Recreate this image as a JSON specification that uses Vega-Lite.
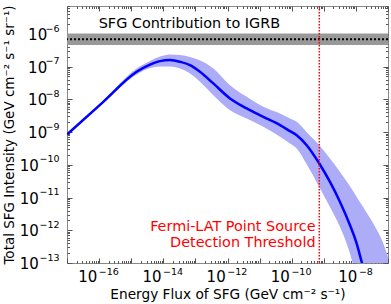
{
  "$schema": "https://vega.github.io/schema/vega-lite/v6.json",
  "width": 321,
  "height": 257,
  "autosize": {"type": "none"},
  "padding": {"left": 67, "top": 6, "right": 3, "bottom": 41},
  "config": {
    "font": "DejaVu Sans",
    "view": {"stroke": "#888888", "strokeWidth": 1},
    "axis": {
      "tickColor": "#555555",
      "labelColor": "#000000",
      "titleColor": "#000000",
      "labelFont": "DejaVu Sans",
      "titleFont": "DejaVu Sans",
      "labelFontSize": 15,
      "titleFontSize": 13.5,
      "titleFontWeight": "normal",
      "grid": false,
      "domain": false,
      "labelFlush": false,
      "labelOverlap": false,
      "labelBound": false
    }
  },
  "datasets": {
    "curve": [
      {"flux": 1e-17, "mid": 8.45e-10, "hi": 9.25e-10, "lo": 7.76e-10},
      {"flux": 1.352e-16, "mid": 8.39e-9, "hi": 9.25e-9, "lo": 7.66e-9},
      {"flux": 1.483e-15, "mid": 6.93e-8, "hi": 8.69e-8, "lo": 5.69e-8},
      {"flux": 3.855e-15, "mid": 1.151e-7, "hi": 1.472e-7, "lo": 8.99e-8},
      {"flux": 7.89e-15, "mid": 1.472e-7, "hi": 2.023e-7, "lo": 1.0e-7},
      {"flux": 1.618e-14, "mid": 1.581e-7, "hi": 2.36e-7, "lo": 1.0e-7},
      {"flux": 3.31e-14, "mid": 1.403e-7, "hi": 2.249e-7, "lo": 8.69e-8},
      {"flux": 6.79e-14, "mid": 1.112e-7, "hi": 1.954e-7, "lo": 6.11e-8},
      {"flux": 1.39e-13, "mid": 6.93e-8, "hi": 1.524e-7, "lo": 3.43e-8},
      {"flux": 3.61e-13, "mid": 3.06e-8, "hi": 8.81e-8, "lo": 1.343e-8},
      {"flux": 1.197e-12, "mid": 1.067e-8, "hi": 2.716e-8, "lo": 4.68e-9},
      {"flux": 3.96e-12, "mid": 5.27e-9, "hi": 1.191e-8, "lo": 2.606e-9},
      {"flux": 1.303e-11, "mid": 2.917e-9, "hi": 5.9e-9, "lo": 1.442e-9},
      {"flux": 4.325e-11, "mid": 1.626e-9, "hi": 3.707e-9, "lo": 7.13e-10},
      {"flux": 8.85e-11, "mid": 1.067e-9, "hi": 2.606e-9, "lo": 4.48e-10},
      {"flux": 1.432e-10, "mid": 8.04e-10, "hi": 2.051e-9, "lo": 3.15e-10},
      {"flux": 2.931e-10, "mid": 3.97e-10, "hi": 9.93e-10, "lo": 1.042e-10},
      {"flux": 7.24e-10, "mid": 1.096e-10, "hi": 3.97e-10, "lo": 2.109e-11},
      {"flux": 1.56e-9, "mid": 3.0e-11, "hi": 1.56e-10, "lo": 5.16e-12},
      {"flux": 3.2e-9, "mid": 7.33e-12, "hi": 6.07e-11, "lo": 1.262e-12},
      {"flux": 6.55e-9, "mid": 1.422e-12, "hi": 2.218e-11, "lo": 1.936e-13},
      {"flux": 1.059e-8, "mid": 3.92e-13, "hi": 1.042e-11, "lo": 2.96e-14},
      {"flux": 1.517e-8, "mid": 1.074e-13, "hi": 6.03e-12, "lo": 3.2e-15},
      {"flux": 2.218e-8, "mid": 2.75e-14, "hi": 3.31e-12, "lo": 1e-15},
      {"flux": 3.48e-8, "hi": 1.603e-12, "lo": 1e-15},
      {"flux": 7.14e-8, "hi": 3.92e-13, "lo": 1e-15},
      {"flux": 1e-7, "hi": 1.524e-13, "lo": 1e-15}
    ]
  },
  "resolve": {"axis": {"x": "independent", "y": "independent"}},
  "layer": [
    {
      "data": {"values": [{"igrb_lo": 4.54e-7, "igrb_hi": 1.03e-6}]},
      "mark": {"type": "rect", "color": "#999999"},
      "encoding": {
        "y": {"field": "igrb_lo", "type": "quantitative", "scale": {"type": "log", "domain": [1e-13, 7.1e-6], "nice": false}, "axis": null},
        "y2": {"field": "igrb_hi"}
      }
    },
    {
      "data": {"values": [{"igrb": 6.8e-7}]},
      "mark": {"type": "rule", "color": "#000000", "strokeWidth": 2, "strokeDash": [2, 2]},
      "encoding": {
        "y": {"field": "igrb", "type": "quantitative", "scale": {"type": "log", "domain": [1e-13, 7.1e-6], "nice": false}, "axis": null}
      }
    },
    {
      "data": {"name": "curve"},
      "mark": {"type": "area", "color": "#acacf7", "clip": true, "interpolate": "monotone"},
      "encoding": {
        "x": {
          "field": "flux", "type": "quantitative",
          "scale": {"type": "log", "domain": [1e-17, 1e-7], "nice": false},
          "axis": {
            "orient": "bottom",
            "values": [1e-17,2e-17,3e-17,4e-17,5e-17,6e-17,7e-17,8e-17,9e-17,1e-16,2e-16,3e-16,4e-16,5e-16,6e-16,7e-16,8e-16,9e-16,1e-15,2e-15,3e-15,4e-15,5e-15,6e-15,7e-15,8e-15,9e-15,1e-14,2e-14,3e-14,4e-14,5e-14,6e-14,7e-14,8e-14,9e-14,1e-13,2e-13,3e-13,4e-13,5e-13,6e-13,7e-13,8e-13,9e-13,1e-12,2e-12,3e-12,4e-12,5e-12,6e-12,7e-12,8e-12,9e-12,1e-11,2e-11,3e-11,4e-11,5e-11,6e-11,7e-11,8e-11,9e-11,1e-10,2e-10,3e-10,4e-10,5e-10,6e-10,7e-10,8e-10,9e-10,1e-9,2e-9,3e-9,4e-9,5e-9,6e-9,7e-9,8e-9,9e-9,1e-8,2e-8,3e-8,4e-8,5e-8,6e-8,7e-8,8e-8,9e-8,1e-7],
            "labelExpr": "abs(log(datum.value)/LN10 - round(log(datum.value)/LN10)) < 0.001 && round(log(datum.value)/LN10) % 2 == 0 ? '10' : ''",
            "tickSize": {"condition": {"test": "abs(log(datum.value)/LN10 - round(log(datum.value)/LN10)) < 0.001", "value": -5}, "value": -2.5},
            "labelPadding": 23,
            "labelAlign": "right",
            "labelBaseline": "alphabetic",
            "labelOffset": {"condition": {"test": "datum.value > 5e-9", "value": 1}, "value": -2.3},
            "title": "Energy Flux of SFG (GeV cm⁻² s⁻¹)",
            "titleFontSize": 13.7,
            "titleX": 160.5,
            "titleY": 35.5,
            "titleBaseline": "alphabetic",
            "titleAlign": "center"
          }
        },
        "y": {
          "field": "lo", "type": "quantitative",
          "scale": {"type": "log", "domain": [1e-13, 7.1e-6], "nice": false},
          "axis": {
            "orient": "left",
            "values": [1e-13,2e-13,3e-13,4e-13,5e-13,6e-13,7e-13,8e-13,9e-13,1e-12,2e-12,3e-12,4e-12,5e-12,6e-12,7e-12,8e-12,9e-12,1e-11,2e-11,3e-11,4e-11,5e-11,6e-11,7e-11,8e-11,9e-11,1e-10,2e-10,3e-10,4e-10,5e-10,6e-10,7e-10,8e-10,9e-10,1e-9,2e-9,3e-9,4e-9,5e-9,6e-9,7e-9,8e-9,9e-9,1e-8,2e-8,3e-8,4e-8,5e-8,6e-8,7e-8,8e-8,9e-8,1e-7,2e-7,3e-7,4e-7,5e-7,6e-7,7e-7,8e-7,9e-7,1e-6,2e-6,3e-6,4e-6,5e-6,6e-6,7e-6],
            "labelExpr": "abs(log(datum.value)/LN10 - round(log(datum.value)/LN10)) < 0.001 ? '10' : ''",
            "tickSize": {"condition": {"test": "abs(log(datum.value)/LN10 - round(log(datum.value)/LN10)) < 0.001", "value": -5}, "value": -2.5},
            "labelPadding": {"condition": {"test": "datum.value < 1.5e-10", "value": 33.7}, "value": 25.3},
            "labelAlign": "right",
            "labelBaseline": "alphabetic",
            "labelOffset": 5.5,
            "title": "Total SFG Intensity (GeV cm⁻² s⁻¹ sr⁻¹)",
            "titleX": -57.5,
            "titleY": 128.5,
            "titleAngle": 270,
            "titleBaseline": "middle",
            "titleAlign": "center"
          }
        },
        "y2": {"field": "hi"}
      }
    },
    {
      "data": {"name": "curve"},
      "transform": [{"filter": "isValid(datum.mid)"}],
      "mark": {"type": "line", "color": "#0000ff", "strokeWidth": 2.5, "clip": true, "interpolate": "monotone"},
      "encoding": {
        "x": {
          "field": "flux", "type": "quantitative",
          "scale": {"type": "log", "domain": [1e-17, 1e-7], "nice": false},
          "axis": {
            "orient": "top",
            "values": [1e-17,2e-17,3e-17,4e-17,5e-17,6e-17,7e-17,8e-17,9e-17,1e-16,2e-16,3e-16,4e-16,5e-16,6e-16,7e-16,8e-16,9e-16,1e-15,2e-15,3e-15,4e-15,5e-15,6e-15,7e-15,8e-15,9e-15,1e-14,2e-14,3e-14,4e-14,5e-14,6e-14,7e-14,8e-14,9e-14,1e-13,2e-13,3e-13,4e-13,5e-13,6e-13,7e-13,8e-13,9e-13,1e-12,2e-12,3e-12,4e-12,5e-12,6e-12,7e-12,8e-12,9e-12,1e-11,2e-11,3e-11,4e-11,5e-11,6e-11,7e-11,8e-11,9e-11,1e-10,2e-10,3e-10,4e-10,5e-10,6e-10,7e-10,8e-10,9e-10,1e-9,2e-9,3e-9,4e-9,5e-9,6e-9,7e-9,8e-9,9e-9,1e-8,2e-8,3e-8,4e-8,5e-8,6e-8,7e-8,8e-8,9e-8,1e-7],
            "labels": false,
            "title": null,
            "tickSize": {"condition": {"test": "abs(log(datum.value)/LN10 - round(log(datum.value)/LN10)) < 0.001", "value": -5}, "value": -2.5}
          }
        },
        "y": {
          "field": "mid", "type": "quantitative",
          "scale": {"type": "log", "domain": [1e-13, 7.1e-6], "nice": false},
          "axis": {
            "orient": "right",
            "values": [1e-13,2e-13,3e-13,4e-13,5e-13,6e-13,7e-13,8e-13,9e-13,1e-12,2e-12,3e-12,4e-12,5e-12,6e-12,7e-12,8e-12,9e-12,1e-11,2e-11,3e-11,4e-11,5e-11,6e-11,7e-11,8e-11,9e-11,1e-10,2e-10,3e-10,4e-10,5e-10,6e-10,7e-10,8e-10,9e-10,1e-9,2e-9,3e-9,4e-9,5e-9,6e-9,7e-9,8e-9,9e-9,1e-8,2e-8,3e-8,4e-8,5e-8,6e-8,7e-8,8e-8,9e-8,1e-7,2e-7,3e-7,4e-7,5e-7,6e-7,7e-7,8e-7,9e-7,1e-6,2e-6,3e-6,4e-6,5e-6,6e-6,7e-6],
            "labels": false,
            "title": null,
            "tickSize": {"condition": {"test": "abs(log(datum.value)/LN10 - round(log(datum.value)/LN10)) < 0.001", "value": -5}, "value": -2.5}
          }
        }
      }
    },
    {
      "data": {"values": [{"threshold": 7.24e-10}]},
      "mark": {"type": "rule", "color": "#ff0000", "strokeWidth": 1.5, "strokeDash": [1.5, 1.5]},
      "encoding": {
        "x": {"field": "threshold", "type": "quantitative", "scale": {"type": "log", "domain": [1e-17, 1e-7], "nice": false}, "axis": null}
      }
    },
    {
      "data": {"values": [{"label": "SFG Contribution to IGRB", "lx": 6.5e-14, "ly": 1.47e-6}]},
      "mark": {"type": "text", "align": "center", "baseline": "alphabetic", "fontSize": 14.4, "color": "#000000"},
      "encoding": {
        "x": {
          "field": "lx", "type": "quantitative",
          "scale": {"type": "log", "domain": [1e-17, 1e-7], "nice": false},
          "axis": {
            "orient": "bottom",
            "values": [1e-16, 1e-14, 1e-12, 1e-10, 1e-8],
            "ticks": false,
            "labelExpr": "'−' + (-round(log(datum.value)/LN10))",
            "labelFontSize": 9.5,
            "labelAlign": "left",
            "labelBaseline": "alphabetic",
            "labelPadding": 11,
            "labelOffset": {"condition": {"test": "datum.value > 5e-9", "value": 2.5}, "value": -0.8},
            "title": null
          }
        },
        "y": {
          "field": "ly", "type": "quantitative",
          "scale": {"type": "log", "domain": [1e-13, 7.1e-6], "nice": false},
          "axis": {
            "orient": "left",
            "values": [1e-13, 1e-12, 1e-11, 1e-10, 1e-9, 1e-8, 1e-7, 1e-6],
            "ticks": false,
            "labelExpr": "'−' + (-round(log(datum.value)/LN10))",
            "labelFontSize": 9.5,
            "labelAlign": "right",
            "labelBaseline": "alphabetic",
            "labelPadding": 8,
            "labelOffset": -2.8,
            "title": null
          }
        },
        "text": {"field": "label"}
      }
    },
    {
      "data": {"values": [
        {"label": "Fermi-LAT Point Source", "lx": 5.52e-10, "ly": 9.5e-13},
        {"label": "Detection Threshold", "lx": 5.52e-10, "ly": 3.08e-13}
      ]},
      "mark": {"type": "text", "align": "right", "baseline": "alphabetic", "fontSize": 14.4, "color": "#ff0000"},
      "encoding": {
        "x": {"field": "lx", "type": "quantitative", "scale": {"type": "log", "domain": [1e-17, 1e-7], "nice": false}, "axis": null},
        "y": {"field": "ly", "type": "quantitative", "scale": {"type": "log", "domain": [1e-13, 7.1e-6], "nice": false}, "axis": null},
        "text": {"field": "label"}
      }
    }
  ]
}
